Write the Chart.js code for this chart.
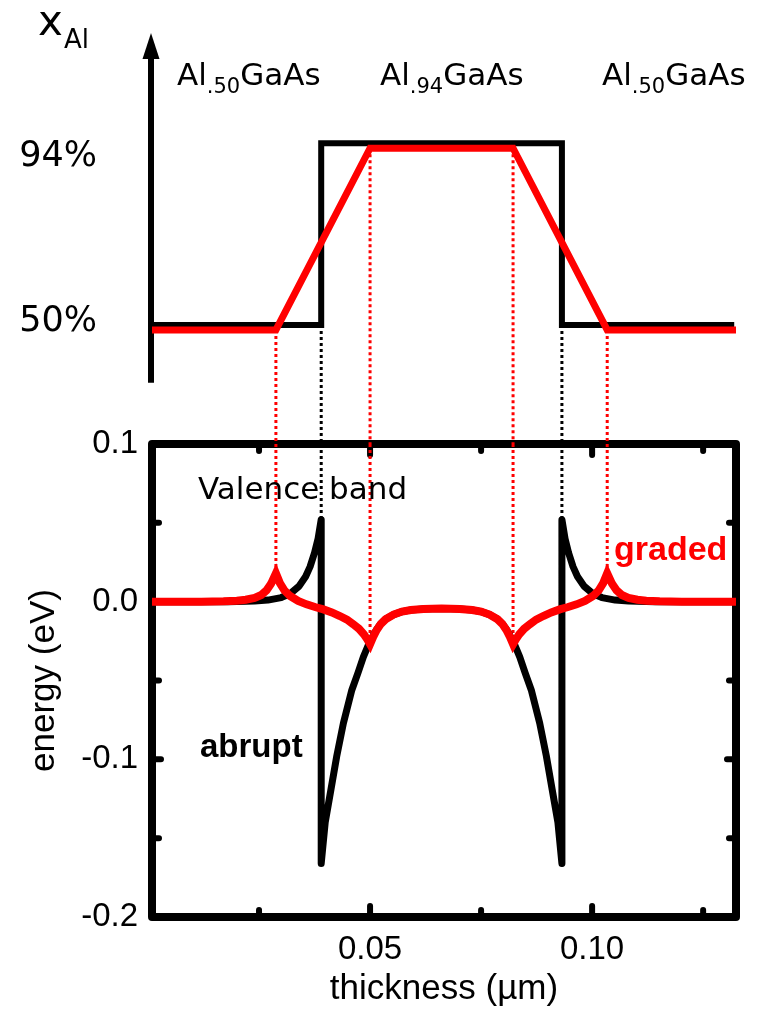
<!DOCTYPE html>
<html>
<head>
<meta charset="utf-8">
<script src="https://cdn.jsdelivr.net/npm/chart.js@4.4.1/dist/chart.umd.min.js"></script>
<style>
  html, body { margin: 0; padding: 0; background: #fff; }
  #wrap { position: relative; width: 763px; height: 1014px; }
  #wrap canvas { position: absolute; left: 0; top: 0; }
</style>
</head>
<body>
<div id="wrap">
  <canvas id="bandChart" width="763" height="1014"></canvas>
  <canvas id="compChart" width="763" height="1014"></canvas>
</div>
<script>
// thickness axis (µm), shared by both panels
const X_MIN = 0.0009;
const X_MAX = 0.1324;
const xTickValues = [0.025, 0.05, 0.075, 0.10, 0.125];
const xTickLabels = ['', '0.05', '', '0.10', ''];

// energy axis (eV)
const yTickValues = [-0.2, -0.15, -0.1, -0.05, 0, 0.05, 0.1];
const yTickLabels = ['-0.2', '', '-0.1', '', '0.0', '', '0.1'];

// Al fraction panel (%)
const C_MIN = 21.18;
const C_MAX = 120.71;
const compTicks = [50, 94];
const compTickLabels = ['50%', '94%'];
const layerLabels = [['Al', '.50', 'GaAs'], ['Al', '.94', 'GaAs'], ['Al', '.50', 'GaAs']];

const compAbruptX = [0.0009, 0.0390, 0.0390, 0.0932, 0.0932, 0.1320];
const compAbruptY = [50, 50, 94, 94, 50, 50];
const compGradedX = [0.0009, 0.0288, 0.0500, 0.0822, 0.1034, 0.1324];
const compGradedY = [48.8, 48.8, 92.8, 92.8, 48.8, 48.8];

// valence band edge, abrupt interfaces
const abruptX = [0.0009, 0.0180, 0.0240, 0.0270, 0.0300, 0.0320, 0.0340, 0.0355, 0.0365, 0.0375, 0.0383, 0.0390,
  0.0390, 0.0399, 0.0412, 0.0425, 0.0440, 0.0459, 0.0473, 0.0485, 0.0497, 0.0507, 0.0515, 0.0524, 0.0535,
  0.0553, 0.0572, 0.0592, 0.0620, 0.0661, 0.0702, 0.0730, 0.0750, 0.0769, 0.0787, 0.0798, 0.0807, 0.0815,
  0.0825, 0.0837, 0.0849, 0.0863, 0.0882, 0.0897, 0.0910, 0.0923, 0.0932, 0.0932, 0.0939, 0.0947, 0.0957,
  0.0967, 0.0982, 0.1002, 0.1022, 0.1052, 0.1082, 0.1142, 0.1324];
const abruptE = [0, 0, 0.0004, 0.0010, 0.0026, 0.0050, 0.0098, 0.0160, 0.0222, 0.0310, 0.0400, 0.0520,
  -0.1660, -0.1400, -0.1190, -0.0980, -0.0770, -0.0560, -0.0450, -0.0350, -0.0270, -0.0215, -0.0175, -0.0140, -0.0110,
  -0.0082, -0.0063, -0.0053, -0.0046, -0.0044, -0.0046, -0.0053, -0.0063, -0.0082, -0.0110, -0.0140, -0.0175, -0.0215,
  -0.0270, -0.0350, -0.0450, -0.0560, -0.0770, -0.0980, -0.1190, -0.1400, -0.1660, 0.0520, 0.0400, 0.0310, 0.0222,
  0.0160, 0.0098, 0.0050, 0.0026, 0.0010, 0.0004, 0, 0];

// valence band edge, graded interfaces
const gradedX = [0.0009, 0.0120, 0.0170, 0.0200, 0.0220, 0.0240, 0.0255, 0.0267, 0.0277, 0.0288, 0.0297, 0.0307,
  0.0320, 0.0338, 0.0357, 0.0376, 0.0395, 0.0414, 0.0432, 0.0448, 0.0462, 0.0475, 0.0486, 0.0494, 0.0500,
  0.0507, 0.0515, 0.0524, 0.0535, 0.0553, 0.0572, 0.0592, 0.0620, 0.0661, 0.0702, 0.0730, 0.0750, 0.0769,
  0.0787, 0.0798, 0.0807, 0.0815, 0.0822, 0.0828, 0.0836, 0.0847, 0.0860, 0.0874, 0.0890, 0.0908, 0.0927,
  0.0946, 0.0965, 0.0984, 0.1002, 0.1015, 0.1025, 0.1034, 0.1045, 0.1055, 0.1067, 0.1082, 0.1102, 0.1122,
  0.1152, 0.1202, 0.1324];
const gradedE = [0, 0, 0.0002, 0.0006, 0.0012, 0.0024, 0.0042, 0.0072, 0.0113, 0.0180, 0.0118, 0.0072,
  0.0036, 0.0005, -0.0017, -0.0034, -0.0049, -0.0068, -0.0091, -0.0114, -0.0143, -0.0172, -0.0207, -0.0240, -0.0270,
  -0.0224, -0.0180, -0.0142, -0.0112, -0.0082, -0.0063, -0.0053, -0.0046, -0.0044, -0.0046, -0.0053, -0.0063, -0.0082,
  -0.0112, -0.0142, -0.0180, -0.0224, -0.0270, -0.0240, -0.0207, -0.0172, -0.0143, -0.0114, -0.0091, -0.0068, -0.0049,
  -0.0034, -0.0017, 0.0005, 0.0036, 0.0072, 0.0118, 0.0180, 0.0113, 0.0072, 0.0042, 0.0024, 0.0012, 0.0006,
  0.0002, 0, 0];

// guide lines linking the composition corners to the band edge
const gradedCorners = [0.0288, 0.0500, 0.0822, 0.1034];
const gradedCornerComp = [48.8, 92.8, 92.8, 48.8];
const gradedCornerE = [0.0180, -0.0270, -0.0270, 0.0180];
const abruptEdges = [0.0390, 0.0932];
const abruptEdgeComp = [50, 50];
const abruptEdgeE = [0.0520, 0.0520];

const sans = "'Liberation Sans', Arial, sans-serif";
const dejavu = "'DejaVu Sans', Verdana, sans-serif";
const RED = '#ff0000';

const pts = (xs, ys) => xs.map((x, i) => ({ x: x, y: ys[i] }));
// vertical segments separated by gaps
const drops = (xs, from, to) => xs.flatMap((x, i) => [
  { x: x, y: Array.isArray(from) ? from[i] : from },
  { x: x, y: to[i] },
  { x: x, y: null }
]);

// box + inward ticks of the energy panel
const frame = {
  id: 'frame',
  beforeDatasetsDraw(chart) {
    const { ctx, chartArea: a, scales: { x, y } } = chart;
    ctx.save();
    ctx.strokeStyle = '#000';
    ctx.lineWidth = 8;
    ctx.lineJoin = 'round';
    ctx.strokeRect(a.left, a.top, a.right - a.left, a.bottom - a.top);
    ctx.lineWidth = 6;
    ctx.lineCap = 'round';
    ctx.beginPath();
    x.ticks.forEach((t, i) => {
      const px = x.getPixelForValue(t.value);
      const len = xTickLabels[i] ? 11 : 7;
      ctx.moveTo(px, a.bottom); ctx.lineTo(px, a.bottom - len);
      ctx.moveTo(px, a.top); ctx.lineTo(px, a.top + len);
    });
    y.ticks.forEach((t, i) => {
      if (i === 0 || i === y.ticks.length - 1) return;
      const py = y.getPixelForValue(t.value);
      const len = yTickLabels[i] ? 9 : 7;
      ctx.moveTo(a.left, py); ctx.lineTo(a.left + len, py);
      ctx.moveTo(a.right, py); ctx.lineTo(a.right - len, py);
    });
    ctx.stroke();
    ctx.restore();
  },
  afterDatasetsDraw(chart) {
    const ctx = chart.ctx;
    ctx.save();
    ctx.textBaseline = 'alphabetic';
    ctx.textAlign = 'left';
    ctx.fillStyle = '#000';
    ctx.font = `31px ${dejavu}`;
    ctx.fillText('Valence band', 198, 499);
    ctx.font = `bold 33px ${sans}`;
    ctx.fillText('abrupt', 200, 757);
    ctx.fillStyle = RED;
    ctx.font = `bold 34px ${sans}`;
    ctx.fillText('graded', 614, 560);
    ctx.restore();
  }
};

// arrow axis and labels of the composition panel
const compDecor = {
  id: 'compDecor',
  beforeDatasetsDraw(chart) {
    const { ctx, chartArea: a, scales: { y } } = chart;
    const ax = a.left - 1;
    ctx.save();
    ctx.strokeStyle = '#000';
    ctx.fillStyle = '#000';
    ctx.lineWidth = 6;
    ctx.beginPath();
    ctx.moveTo(ax, y.getPixelForValue(36));
    ctx.lineTo(ax, a.top + 20);
    ctx.stroke();
    ctx.beginPath();
    ctx.moveTo(ax, a.top);
    ctx.lineTo(ax - 8.5, a.top + 26);
    ctx.lineTo(ax + 8.5, a.top + 26);
    ctx.closePath();
    ctx.fill();
    ctx.restore();
  },
  afterDraw(chart) {
    const { ctx, scales: { y } } = chart;
    ctx.save();
    ctx.fillStyle = '#000';
    ctx.textBaseline = 'alphabetic';
    ctx.textAlign = 'left';
    ctx.font = `42px ${dejavu}`;
    ctx.fillText('x', 38, 35);
    ctx.font = `26px ${dejavu}`;
    ctx.fillText('Al', 64, 48);

    const starts = [177, 380, 602];
    layerLabels.forEach((parts, i) => {
      let cx = starts[i];
      ctx.font = `31px ${dejavu}`;
      ctx.fillText(parts[0], cx, 85);
      cx += ctx.measureText(parts[0]).width;
      ctx.font = `21px ${dejavu}`;
      ctx.fillText(parts[1], cx, 93);
      cx += ctx.measureText(parts[1]).width;
      ctx.font = `31px ${dejavu}`;
      ctx.fillText(parts[2], cx, 85);
    });

    const shift = [-3, 14];
    ctx.font = `35px ${dejavu}`;
    ctx.textAlign = 'right';
    ctx.textBaseline = 'middle';
    compTicks.forEach((v, i) => {
      ctx.fillText(compTickLabels[i], 97, y.getPixelForValue(v) + shift[i]);
    });
    ctx.restore();
  }
};

new Chart(document.getElementById('bandChart'), {
  type: 'line',
  data: {
    datasets: [
      { data: pts(gradedX, gradedE), borderColor: RED, borderWidth: 8, pointRadius: 0,
        borderJoinStyle: 'miter', borderCapStyle: 'butt', clip: 6 },
      { data: pts(abruptX, abruptE), borderColor: '#000', borderWidth: 7, pointRadius: 0,
        borderJoinStyle: 'round', borderCapStyle: 'round', clip: 6 },
      { data: drops(gradedCorners, 0.1, gradedCornerE), borderColor: RED, borderWidth: 3,
        borderDash: [3, 3], pointRadius: 0, spanGaps: false, clip: 4 },
      { data: drops(abruptEdges, 0.1, abruptEdgeE), borderColor: '#000', borderWidth: 3,
        borderDash: [3, 3], pointRadius: 0, spanGaps: false, clip: 4 }
    ]
  },
  options: {
    responsive: false,
    animation: false,
    devicePixelRatio: 1,
    layout: { padding: { left: 0, right: 27, top: 444, bottom: 0 } },
    plugins: { legend: { display: false }, tooltip: { enabled: false } },
    scales: {
      x: {
        type: 'linear', min: X_MIN, max: X_MAX,
        afterBuildTicks: s => { s.ticks = xTickValues.map(v => ({ value: v })); },
        afterFit: s => { s.height = 97; },
        grid: { display: false, drawTicks: false },
        border: { display: false },
        ticks: {
          callback: (v, i) => xTickLabels[i], padding: 13, maxRotation: 0, autoSkip: false,
          color: '#000', font: { family: sans, size: 33 }
        },
        title: {
          display: true, text: 'thickness (µm)', color: '#000',
          font: { family: sans, size: 35 }, padding: { top: 0, bottom: 4 }
        }
      },
      y: {
        type: 'linear', min: -0.2, max: 0.1,
        afterBuildTicks: s => { s.ticks = yTickValues.map(v => ({ value: v })); },
        afterFit: s => { s.width = 152; },
        grid: { display: false, drawTicks: false },
        border: { display: false },
        ticks: {
          callback: (v, i) => yTickLabels[i], padding: 14, autoSkip: false,
          color: '#000', font: { family: sans, size: 33 }
        },
        title: {
          display: true, text: 'energy (eV)', color: '#000',
          font: { family: sans, size: 35 }, padding: { top: 23, bottom: 0 }
        }
      }
    }
  },
  plugins: [frame]
});

new Chart(document.getElementById('compChart'), {
  type: 'line',
  data: {
    datasets: [
      { data: pts(compGradedX, compGradedY), borderColor: RED, borderWidth: 7, pointRadius: 0,
        borderJoinStyle: 'miter', borderCapStyle: 'butt', clip: 6 },
      { data: pts(compAbruptX, compAbruptY), borderColor: '#000', borderWidth: 6, pointRadius: 0,
        borderJoinStyle: 'miter', borderCapStyle: 'butt', clip: 6 },
      { data: drops(gradedCorners, gradedCornerComp, gradedCorners.map(() => C_MIN)), borderColor: RED,
        borderWidth: 3, borderDash: [3, 3], pointRadius: 0, spanGaps: false, clip: 4 },
      { data: drops(abruptEdges, abruptEdgeComp, abruptEdges.map(() => C_MIN)), borderColor: '#000',
        borderWidth: 3, borderDash: [3, 3], pointRadius: 0, spanGaps: false, clip: 4 }
    ]
  },
  options: {
    responsive: false,
    animation: false,
    devicePixelRatio: 1,
    layout: { padding: { left: 152, right: 27, top: 33, bottom: 570 } },
    plugins: { legend: { display: false }, tooltip: { enabled: false } },
    scales: {
      x: { type: 'linear', display: false, min: X_MIN, max: X_MAX },
      y: { type: 'linear', display: false, min: C_MIN, max: C_MAX }
    }
  },
  plugins: [compDecor]
});
</script>
</body>
</html>
